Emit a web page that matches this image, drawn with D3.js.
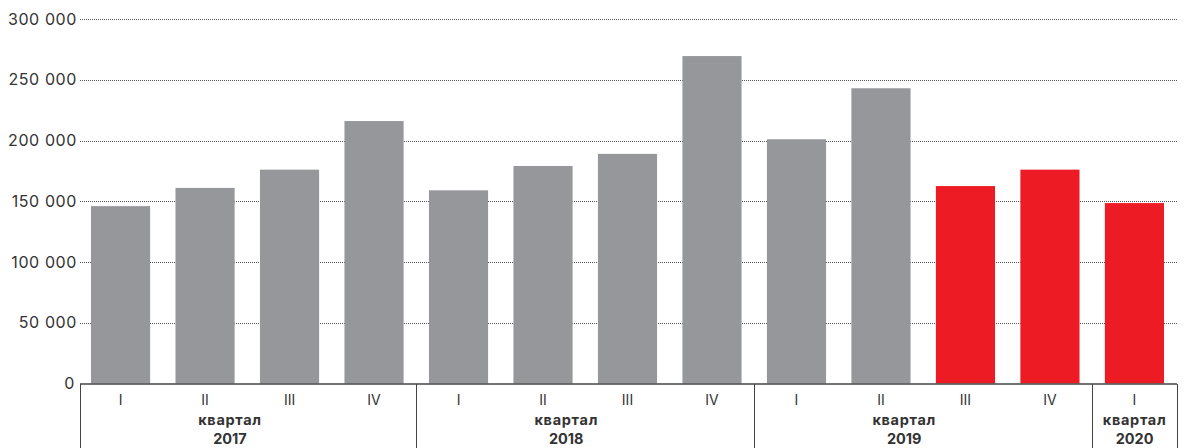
<!DOCTYPE html>
<html><head><meta charset="utf-8">
<script src="https://cdn.jsdelivr.net/npm/d3@7"></script>
<style>body{margin:0;background:#fff}svg{display:block}</style>
</head><body>
<svg id="c" width="1190" height="448"></svg>
<script>
const quarters = ["I","II","III","IV","I","II","III","IV","I","II","III","IV","I"];
const years = ["2017","2017","2017","2017","2018","2018","2018","2018","2019","2019","2019","2019","2020"];
const values = [146000,161000,176000,216000,159000,179000,189000,269500,201000,243000,162500,176000,148500];
const highlighted = [false,false,false,false,false,false,false,false,false,false,true,true,true];
const yTicks = [0,50000,100000,150000,200000,250000,300000];
const yearGroups = ["2017","2018","2019","2020"];
const groupLabel = "квартал";

const svg = d3.select("#c");
const pLeft = 80, pRight = 1177, barRight = 1175, pTop = 19, pBottom = 383.5;
const keys = values.map((d,i)=>i);
const x = d3.scaleBand().domain(keys).range([pLeft,barRight]).paddingInner(0.3).paddingOuter(0.13);
const y = d3.scaleLinear().domain([0,300000]).range([pBottom,pTop]);
const fmt = v => v===0 ? "0" : d3.format(",")(v).replace(/,/g," ");
const font = "Inter, 'Noto Sans', sans-serif";

// gridlines
svg.append("g").selectAll("line").data(yTicks.filter(d=>d>0)).join("line")
  .attr("x1",pLeft).attr("x2",pRight)
  .attr("y1",d=>Math.round(y(d))+0.5).attr("y2",d=>Math.round(y(d))+0.5)
  .attr("stroke","#555").attr("stroke-width",1).attr("stroke-dasharray","1 1");

// y labels
svg.append("g").selectAll("text").data(yTicks).join("text")
  .attr("x",d=>d===0?75:77).attr("y",d=>y(d)).attr("dy","0.35em")
  .attr("text-anchor","end").attr("font-family",font).attr("font-size",16)
  .attr("letter-spacing",0.6)
  .attr("fill","#333").text(fmt);

// bars
svg.append("g").selectAll("rect").data(keys).join("rect")
  .attr("x",i=>x(i)).attr("width",x.bandwidth())
  .attr("y",i=>y(values[i])).attr("height",i=>y(0)-y(values[i]))
  .attr("fill",i=>highlighted[i]?"#ed1c24":"#96979b");

// baseline
svg.append("line").attr("x1",pLeft).attr("x2",pRight).attr("y1",384).attr("y2",384)
  .attr("stroke","#444").attr("stroke-width",1.5);

// group dividers
const groupStarts = [];
years.forEach((yr,i)=>{ if(i===0||years[i-1]!==yr) groupStarts.push(i); });
const edges = groupStarts.map(i=>x(i)-x.step()*x.paddingInner()/2);
edges.push(pRight);
edges[0]=pLeft;
svg.append("g").selectAll("line").data(edges).join("line")
  .attr("x1",d=>Math.round(d)+0.5).attr("x2",d=>Math.round(d)+0.5)
  .attr("y1",384).attr("y2",448).attr("stroke","#444").attr("stroke-width",1);

// quarter labels
svg.append("g").selectAll("text").data(keys).join("text")
  .attr("x",i=>x(i)+x.bandwidth()/2).attr("y",405)
  .attr("text-anchor","middle").attr("font-family",font).attr("font-size",14)
  .attr("fill","#333").text(i=>quarters[i]);

// year group labels
yearGroups.forEach((yr,g)=>{
  const w = edges[g+1]-edges[g];
  const cx = w > 150 ? edges[g] + 150 : (edges[g]+edges[g+1])/2;
  svg.append("text").attr("x",cx).attr("y",425).attr("text-anchor","middle")
    .attr("font-family",font).attr("font-size",14.5).attr("font-weight",700)
    .attr("letter-spacing",0.7)
    .attr("fill","#333").text(groupLabel);
  svg.append("text").attr("x",cx).attr("y",444.3).attr("text-anchor","middle")
    .attr("font-family",font).attr("font-size",14.5).attr("font-weight",700)
    .attr("fill","#333").text(yr);
});
</script>
</body></html>
